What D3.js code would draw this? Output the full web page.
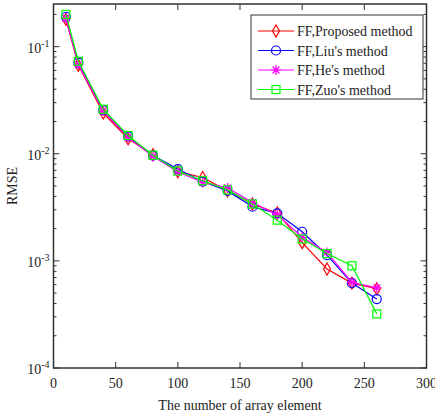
<!DOCTYPE html>
<html>
<head>
<meta charset="utf-8">
<script src="https://cdn.jsdelivr.net/npm/d3@7"></script>
<style>
  body { margin: 0; background: #fff; }
  text { font-family: "Liberation Serif", "Times New Roman", serif; fill: #222; }
</style>
</head>
<body>
<div id="chart"></div>
<script>
// array element counts
const elements = [10, 20, 40, 60, 80, 100, 120, 140, 160, 180, 200, 220, 240, 260];

const proposed = [0.180, 0.067, 0.0240, 0.0138, 0.0098, 0.0068, 0.0060, 0.0045, 0.0034, 0.0028, 0.00148, 0.00084, 0.00062, 0.00055];
const liu      = [0.190, 0.071, 0.0255, 0.0145, 0.0096, 0.0072, 0.0055, 0.0045, 0.0032, 0.00278, 0.00187, 0.00113, 0.00062, 0.00044];
const he       = [0.185, 0.068, 0.0250, 0.0142, 0.0095, 0.0068, 0.0054, 0.0048, 0.0035, 0.0027, 0.00166, 0.00120, 0.00063, 0.00056];
const zuo      = [0.200, 0.073, 0.0260, 0.0148, 0.0097, 0.0069, 0.0056, 0.0046, 0.0034, 0.0024, 0.00160, 0.00117, 0.00090, 0.00032];

const seriesNames = ["FF,Proposed method", "FF,Liu's method", "FF,He's method", "FF,Zuo's method"];
const seriesColors = ["#ff0000", "#0000ff", "#ff00ff", "#00ff00"];
const seriesMarkers = ["diamond", "circle", "star", "square"];

const xTicks = [0, 50, 100, 150, 200, 250, 300];
const yTicks = [1e-4, 1e-3, 1e-2, 1e-1];

const margin = {top: 4, right: 8.5, bottom: 50, left: 53.5};
const width = 435 - margin.left - margin.right;
const height = 418 - margin.top - margin.bottom;

const svg = d3.select("#chart").append("svg")
    .attr("width", 435)
    .attr("height", 418);

const g = svg.append("g")
    .attr("transform", "translate(" + margin.left + "," + margin.top + ")");

const x = d3.scaleLinear().domain([0, 300]).range([0, width]);
const y = d3.scaleLog().domain([1e-4, 0.25]).range([height, 0]);

const axisColor = "#333";

// minor log ticks
const minorTicks = [];
for (let e = -4; e <= -1; e++) {
    for (let m = 2; m <= 9; m++) {
        const v = m * Math.pow(10, e);
        if (v <= 0.25) minorTicks.push(v);
    }
}

// y ticks on both sides, inward
yTicks.forEach(v => {
    g.append("line").attr("x1", 0).attr("x2", 6).attr("y1", y(v)).attr("y2", y(v)).attr("stroke", axisColor);
    g.append("line").attr("x1", width).attr("x2", width - 6).attr("y1", y(v)).attr("y2", y(v)).attr("stroke", axisColor);
});
minorTicks.forEach(v => {
    g.append("line").attr("x1", 0).attr("x2", 3).attr("y1", y(v)).attr("y2", y(v)).attr("stroke", axisColor);
    g.append("line").attr("x1", width).attr("x2", width - 3).attr("y1", y(v)).attr("y2", y(v)).attr("stroke", axisColor);
});
xTicks.forEach(v => {
    g.append("line").attr("x1", x(v)).attr("x2", x(v)).attr("y1", height).attr("y2", height - 6).attr("stroke", axisColor);
    g.append("line").attr("x1", x(v)).attr("x2", x(v)).attr("y1", 0).attr("y2", 6).attr("stroke", axisColor);
});

g.append("rect")
    .attr("width", width)
    .attr("height", height)
    .attr("fill", "none")
    .attr("stroke", axisColor)
    .attr("stroke-width", 1.5);

// tick labels
g.selectAll(".xlab").data(xTicks).enter().append("text")
    .attr("x", d => x(d))
    .attr("y", height + 20)
    .attr("text-anchor", "middle")
    .attr("font-size", 14)
    .text(d => d);

yTicks.forEach(v => {
    const t = g.append("text")
        .attr("x", -4)
        .attr("y", y(v) + 6)
        .attr("text-anchor", "end")
        .attr("font-size", 14);
    t.append("tspan").text("10");
    t.append("tspan").attr("dy", -6).attr("font-size", 10).text(Math.round(Math.log10(v)));
});

// axis titles
svg.append("text")
    .attr("x", margin.left + width / 2)
    .attr("y", 410)
    .attr("text-anchor", "middle")
    .attr("font-size", 14)
    .text("The number of array element");

svg.append("text")
    .attr("transform", "translate(17," + (margin.top + height / 2) + ") rotate(-90)")
    .attr("text-anchor", "middle")
    .attr("font-size", 14)
    .text("RMSE");

function drawMarker(sel, type, color) {
    if (type === "diamond") {
        sel.append("path").attr("d", "M0,-6L3.5,0L0,6L-3.5,0Z")
            .attr("fill", "none").attr("stroke", color).attr("stroke-width", 1.2);
    } else if (type === "circle") {
        sel.append("circle").attr("r", 4.5)
            .attr("fill", "none").attr("stroke", color).attr("stroke-width", 1.2);
    } else if (type === "square") {
        sel.append("rect").attr("x", -4).attr("y", -4).attr("width", 8).attr("height", 8)
            .attr("fill", "none").attr("stroke", color).attr("stroke-width", 1.2);
    } else {
        sel.append("path").attr("d", "M-5,0H5M0,-5V5M-3.5,-3.5L3.5,3.5M-3.5,3.5L3.5,-3.5")
            .attr("fill", "none").attr("stroke", color).attr("stroke-width", 1.2);
    }
}

const allSeries = [proposed, liu, he, zuo];
const line = d3.line().x(d => x(d[0])).y(d => y(d[1]));

allSeries.forEach((vals, i) => {
    const pts = elements.map((e, j) => [e, vals[j]]);
    g.append("path")
        .datum(pts)
        .attr("d", line)
        .attr("fill", "none")
        .attr("stroke", seriesColors[i])
        .attr("stroke-width", 1.2);
    pts.forEach(p => {
        const m = g.append("g").attr("transform", "translate(" + x(p[0]) + "," + y(p[1]) + ")");
        drawMarker(m, seriesMarkers[i], seriesColors[i]);
    });
});

// legend
const legend = svg.append("g").attr("transform", "translate(251,15)");
legend.append("rect")
    .attr("width", 172)
    .attr("height", 84)
    .attr("fill", "#fff")
    .attr("stroke", axisColor);

seriesNames.forEach((name, i) => {
    const row = legend.append("g").attr("transform", "translate(0," + (16 + i * 19.5) + ")");
    row.append("line").attr("x1", 7).attr("x2", 43).attr("stroke", seriesColors[i]).attr("stroke-width", 1.2);
    const m = row.append("g").attr("transform", "translate(25,0)");
    drawMarker(m, seriesMarkers[i], seriesColors[i]);
    row.append("text")
        .attr("x", 46)
        .attr("y", 5)
        .attr("font-size", 14)
        .text(name);
});
</script>
</body>
</html>
